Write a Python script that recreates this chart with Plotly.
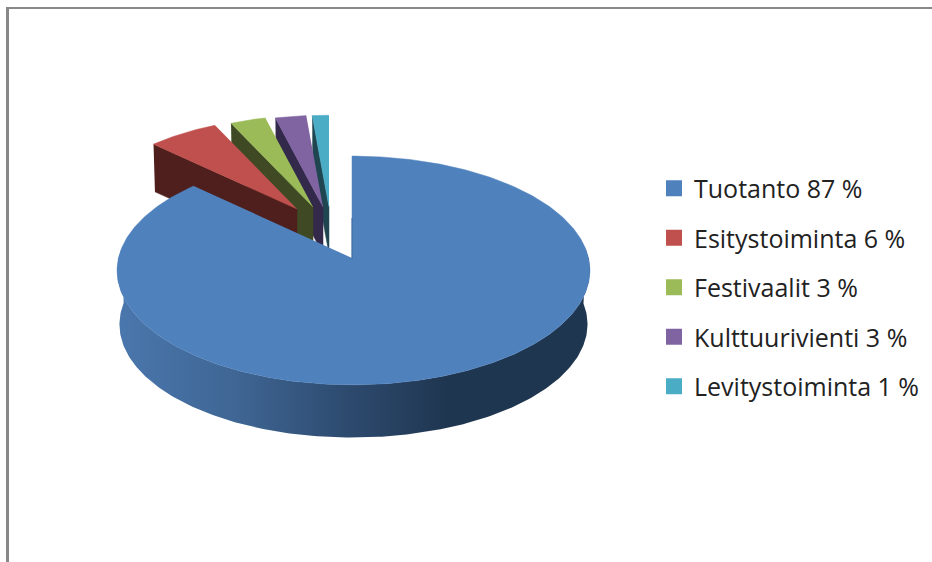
import numpy as np
import plotly.graph_objects as go

categories = ["Tuotanto", "Esitystoiminta", "Festivaalit", "Kulttuurivienti", "Levitystoiminta"]
values = [87, 6, 3, 2.6, 1.4]
legend_labels = ["Tuotanto 87 %", "Esitystoiminta 6 %", "Festivaalit 3 %", "Kulttuurivienti 3 %", "Levitystoiminta 1 %"]
top_colors = ["#4f81bd", "#c0504d", "#9bbb59", "#8064a2", "#4bacc6"]
wall_colors = ["#1f3650", "#4f1f1d", "#3f4a24", "#33294a", "#1f4650"]
# explode offset of each slice's apex and radial scale
explode_dx = [0, -55, -39, -29, -23]
explode_dy = [0, -49, -51, -51, -51]
radial = [1.0, 0.9, 0.9, 0.9, 0.9]

CX, CY = 352, 258
RX, RZ, K = 235, 113, 0.109
RIM_SHIFT = 1.5
DEPTH_MAIN, DEPTH_EXP = 54, 47
BOTTOM_SCALE = 0.99


def project(theta_deg, scale):
    t = np.radians(theta_deg)
    s = 1 / (1 + K * np.cos(t))
    return RX * np.sin(t) * s * scale, -RZ * np.cos(t) * s * scale


shares = np.array(values) / sum(values) * 360
starts = np.concatenate([[0], np.cumsum(shares)[:-1]])
ends = np.cumsum(shares)

fig = go.Figure()


def poly(x, y, color, **kw):
    fig.add_trace(go.Scatter(x=list(x), y=list(y), mode="lines", fill="toself", fillcolor=color,
                             line=dict(color=color, width=0.5), hoverinfo="skip", showlegend=False, **kw))


# exploded slices, back to front
for i in [4, 3, 2, 1]:
    ax, ay = CX + explode_dx[i], CY + explode_dy[i]
    th = np.linspace(starts[i], ends[i], 40)
    px, py = project(th, radial[i])
    # radial wall along the leading edge
    wx = [ax + px[0], ax, ax, ax + BOTTOM_SCALE * px[0]]
    wy = [ay + py[0], ay, ay + DEPTH_EXP, ay + BOTTOM_SCALE * py[0] + DEPTH_EXP]
    poly(wx, wy, wall_colors[i])
    poly(np.r_[ax, ax + px], np.r_[ay, ay + py], top_colors[i])

# main slice: outer wall with a horizontal gradient
th = np.linspace(starts[0], ends[0], 400)
px, py = project(th, 1.0)
px = px + RIM_SHIFT * np.abs(np.sin(np.radians(th)))
mask = (th >= 85) & (th <= 275)
wx = np.r_[CX + px[mask], (CX + BOTTOM_SCALE * px[mask])[::-1]]
wy = np.r_[CY + py[mask], (CY + BOTTOM_SCALE * py[mask] + DEPTH_MAIN)[::-1]]
fig.add_trace(go.Scatter(
    x=list(wx), y=list(wy), mode="lines", fill="toself", line=dict(width=0),
    fillgradient=dict(type="horizontal", colorscale=[
        [0.0, "#4a77ad"], [0.25, "#3f6694"], [0.49, "#2d4a6e"], [0.70, "#1f3650"], [1.0, "#1f3650"]]),
    hoverinfo="skip", showlegend=False))
poly(np.r_[CX, CX + px], np.r_[CY, CY + py], top_colors[0])
fig.add_trace(go.Scatter(x=[CX, CX], y=[CY - 40, CY + 1], mode="lines",
                         line=dict(color="#3f6a9c", width=1), hoverinfo="skip", showlegend=False))

# legend entries
for lab, col in zip(legend_labels, top_colors):
    fig.add_trace(go.Scatter(x=[None], y=[None], mode="markers", name=lab, legendgroup=lab,
                             marker=dict(symbol="square", size=17, color=col)))

fig.update_layout(
    width=932, height=562, margin=dict(l=0, r=0, t=0, b=0), autosize=False,
    paper_bgcolor="white", plot_bgcolor="white",
    xaxis=dict(range=[0, 932], visible=False, fixedrange=True),
    yaxis=dict(range=[562, 0], visible=False, fixedrange=True),
    legend=dict(x=654 / 932, y=1 - 165.5 / 562, xanchor="left", yanchor="top", tracegroupgap=14,
                font=dict(family="Open Sans", size=25, color="#222222"), bgcolor="rgba(0,0,0,0)",
                itemwidth=30),
    shapes=[
        dict(type="line", xref="x", yref="y", x0=6, x1=932, y0=8, y1=8, line=dict(color="#888888", width=2)),
        dict(type="line", xref="x", yref="y", x0=7.5, x1=7.5, y0=7, y1=562, line=dict(color="#888888", width=3)),
    ],
)
fig.write_html("out.html", config=dict(displayModeBar=False),
               post_script="document.body.style.margin='0';document.body.style.overflow='hidden';")
